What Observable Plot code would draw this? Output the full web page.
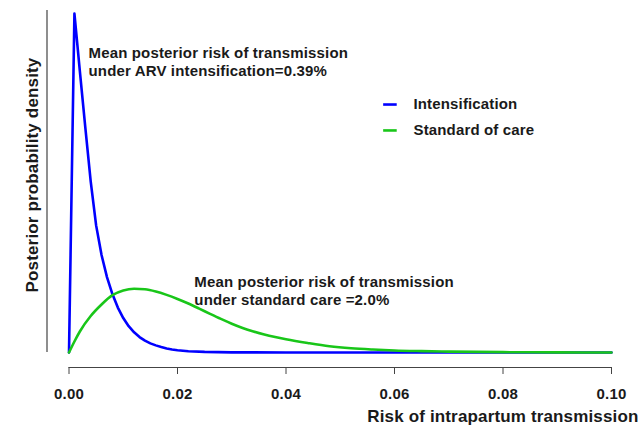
<!DOCTYPE html>
<html>
<head>
<meta charset="utf-8">
<script src="https://cdn.jsdelivr.net/npm/d3@7"></script>
<script src="https://cdn.jsdelivr.net/npm/@observablehq/plot@0.6"></script>
<style>
  html, body { margin: 0; padding: 0; background: #fff; }
  #chart { width: 642px; height: 426px; }
  svg { font-family: "Liberation Sans", Arial, Helvetica, sans-serif; }
  svg text { letter-spacing: 0.15px; }
</style>
</head>
<body>
<div id="chart"></div>
<script>
// Risk of intrapartum transmission (x) and posterior density (y)
const intensRisk = [0, 0.001, 0.002, 0.003, 0.004, 0.005, 0.006, 0.007, 0.008, 0.009, 0.010,
  0.011, 0.012, 0.013, 0.014, 0.015, 0.016, 0.017, 0.018, 0.019, 0.020, 0.022, 0.025, 0.030,
  0.040, 0.050, 0.060, 0.070, 0.080, 0.090, 0.100];
const intensDensity = [0, 200, 166, 133, 101, 75, 57.5, 44.5, 34.5, 26.5, 20.3,
  15.5, 11.9, 9.1, 7.0, 5.4, 4.2, 3.2, 2.4, 1.8, 1.35, 0.75, 0.35, 0.1,
  0.02, 0, 0, 0, 0, 0, 0];

const standardRisk = [0, 0.001, 0.002, 0.004, 0.006, 0.008, 0.010, 0.012, 0.014, 0.016, 0.018,
  0.020, 0.022, 0.024, 0.026, 0.028, 0.030, 0.032, 0.034, 0.036, 0.038, 0.040, 0.044, 0.048,
  0.052, 0.056, 0.060, 0.065, 0.070, 0.080, 0.090, 0.100];
const standardDensity = [0, 6.5, 12.4, 21.5, 28.3, 33.8, 36.6, 37.6, 37.3, 36, 34,
  31.6, 28.9, 25.9, 22.8, 19.8, 17.0, 14.5, 12.4, 10.6, 9.1, 7.8, 5.6, 3.7,
  2.5, 1.75, 1.2, 0.8, 0.5, 0.2, 0.07, 0.02];

const xTicks = [0, 0.02, 0.04, 0.06, 0.08, 0.10];
const xTickLabels = ["0.00", "0.02", "0.04", "0.06", "0.08", "0.10"];

const seriesNames = ["Intensification", "Standard of care"];
const seriesColors = ["#0000ff", "#19c619"];

const annotations = [
  {text: "Mean posterior risk of transmission\nunder ARV intensification=0.39%", x: 0.0036, y: 171.6},
  {text: "Mean posterior risk of transmission\nunder standard care =2.0%", x: 0.0231, y: 36.6}
];
const legendRows = [
  {name: seriesNames[0], color: seriesColors[0], y: 146.3},
  {name: seriesNames[1], color: seriesColors[1], y: 131.0}
];

const intens = intensRisk.map((x, i) => ({x, y: intensDensity[i]}));
const standard = standardRisk.map((x, i) => ({x, y: standardDensity[i]}));

const ink = "#1a1a1a";
const bold = {fontWeight: "bold", fontFamily: "'Liberation Sans', Arial, sans-serif"};

const chart = Plot.plot({
  width: 642,
  height: 426,
  marginLeft: 47,
  marginRight: 4,
  marginTop: 0,
  marginBottom: 59,
  style: {background: "#fff", overflow: "visible"},
  x: {domain: [0, 0.1], range: [68.5, 611], axis: null},
  y: {domain: [0, 200], range: [352, 13], axis: null},
  marks: [
    // y axis line (no ticks)
    Plot.ruleX([0], {y1: 0, y2: 201.8, dx: -22, stroke: "#444", strokeWidth: 1.2}),
    // x axis line
    Plot.ruleY([0], {x1: xTicks[0], x2: xTicks[xTicks.length - 1], dy: 15, stroke: "#444", strokeWidth: 1.2}),
    Plot.axisX({
      anchor: "bottom", ticks: xTicks, tickFormat: (d) => xTickLabels[xTicks.indexOf(d)],
      tickSize: 7, tickPadding: 13.4, fontSize: 15, ...bold, label: null, stroke: "#444", fill: ink
    }),
    Plot.line(intens, {x: "x", y: "y", stroke: seriesColors[0], strokeWidth: 2.6, curve: "linear"}),
    Plot.line(standard, {x: "x", y: "y", stroke: seriesColors[1], strokeWidth: 2.6, curve: "monotone-x"}),
    Plot.text(annotations, {x: "x", y: "y", text: "text", textAnchor: "start", lineAnchor: "middle",
      lineHeight: 1.2, fontSize: 15, ...bold, fill: ink}),
    // legend
    Plot.ruleY(legendRows, {y: "y", x1: 0.058, x2: 0.0605, stroke: "color", strokeWidth: 2.6}),
    Plot.text(legendRows, {y: "y", x: 0.0635, text: "name", textAnchor: "start", lineAnchor: "middle",
      fontSize: 15, ...bold, fill: ink}),
    // axis titles
    Plot.text(["Risk of intrapartum transmission"], {frameAnchor: "bottom-right", text: d => d,
      textAnchor: "end", lineAnchor: "middle", dy: 49.3, fontSize: 17, ...bold, fill: ink}),
    Plot.text(["Posterior probability density"], {frameAnchor: "left", text: d => d, rotate: -90,
      textAnchor: "middle", lineAnchor: "middle", dx: -15.4, dy: -9, fontSize: 17, ...bold, fill: ink})
  ]
});
document.getElementById("chart").appendChild(chart);
</script>
</body>
</html>
